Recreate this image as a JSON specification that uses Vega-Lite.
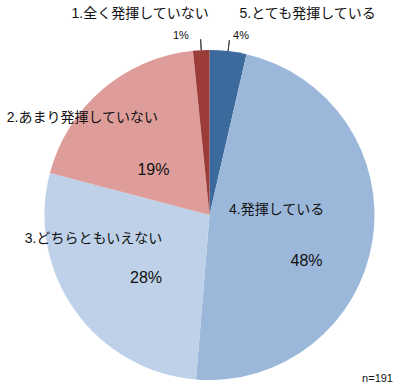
{
  "$schema": "https://vega.github.io/schema/vega-lite/v6.json",
  "width": 330,
  "height": 330,
  "autosize": {"type": "none"},
  "padding": {"left": 44.5, "top": 50, "right": 25.5, "bottom": 11},
  "background": "white",
  "view": {"stroke": null},
  "title": {
    "text": "n=191",
    "orient": "bottom",
    "anchor": "end",
    "frame": "group",
    "baseline": "top",
    "offset": -7,
    "dx": 18.5,
    "fontSize": 11,
    "fontWeight": "normal",
    "font": "Liberation Sans, Arial",
    "color": "#111"
  },
  "data": {
    "values": [
      {"label": "5.とても発揮している", "pct": "4%", "value": 3.6},
      {"label": "4.発揮している", "pct": "48%", "value": 47.7},
      {"label": "3.どちらともいえない", "pct": "28%", "value": 27.8},
      {"label": "2.あまり発揮していない", "pct": "19%", "value": 19.3},
      {"label": "1.全く発揮していない", "pct": "1%", "value": 1.6}
    ]
  },
  "encoding": {
    "theta": {"field": "value", "type": "quantitative", "stack": true},
    "order": {"field": "label", "sort": "descending"},
    "detail": {"field": "label"}
  },
  "layer": [
    {
      "mark": {"type": "arc", "outerRadius": 165},
      "encoding": {
        "color": {
          "field": "label",
          "type": "nominal",
          "scale": {
            "domain": ["5.とても発揮している", "4.発揮している", "3.どちらともいえない", "2.あまり発揮していない", "1.全く発揮していない"],
            "range": ["#3D6A9C", "#9BB8DB", "#BED1E8", "#DE9D9A", "#9B3C38"]
          },
          "legend": null
        }
      }
    },
    {
      "mark": {"type": "arc", "innerRadius": 165, "outerRadius": 176, "padAngle": 1.2, "fill": null, "strokeWidth": 1},
      "encoding": {
        "stroke": {"condition": {"test": "datum.pct === '4%' || datum.pct === '1%'", "value": "#444"}, "value": null}
      }
    },
    {
      "mark": {"type": "text", "radius": 205, "dx": 75, "dy": 3, "fontSize": 14, "font": "Liberation Sans, Noto Sans CJK JP"},
      "encoding": {"text": {"condition": {"test": "datum.pct === '4%'", "field": "label"}, "value": ""}, "color": {"value": "#111"}}
    },
    {
      "mark": {"type": "text", "radius": 205, "dx": -59, "dy": 4, "fontSize": 14, "font": "Liberation Sans, Noto Sans CJK JP"},
      "encoding": {"text": {"condition": {"test": "datum.pct === '1%'", "field": "label"}, "value": ""}, "color": {"value": "#111"}}
    },
    {
      "mark": {"type": "text", "radius": 165, "dx": -20, "dy": 28.5, "fontSize": 14, "font": "Liberation Sans, Noto Sans CJK JP"},
      "encoding": {"text": {"condition": {"test": "datum.pct === '19%'", "field": "label"}, "value": ""}, "color": {"value": "#111"}}
    },
    {
      "mark": {"type": "text", "radius": 140, "dx": -1.7, "dy": -57, "fontSize": 14, "font": "Liberation Sans, Noto Sans CJK JP"},
      "encoding": {"text": {"condition": {"test": "datum.pct === '28%'", "field": "label"}, "value": ""}, "color": {"value": "#111"}}
    },
    {
      "mark": {"type": "text", "radius": 68, "dx": 0, "dy": -15.4, "fontSize": 14, "font": "Liberation Sans, Noto Sans CJK JP"},
      "encoding": {"text": {"condition": {"test": "datum.pct === '48%'", "field": "label"}, "value": ""}, "color": {"value": "#111"}}
    },
    {
      "mark": {"type": "text", "radius": 100, "dx": -1.8, "dy": 30.7, "fontSize": 16, "font": "Liberation Sans, Arial"},
      "encoding": {"text": {"condition": {"test": "datum.pct === '48%'", "field": "pct"}, "value": ""}, "color": {"value": "#111"}}
    },
    {
      "mark": {"type": "text", "radius": 90, "dx": 10, "dy": 11, "fontSize": 16, "font": "Liberation Sans, Arial"},
      "encoding": {"text": {"condition": {"test": "datum.pct === '28%'", "field": "pct"}, "value": ""}, "color": {"value": "#111"}}
    },
    {
      "mark": {"type": "text", "radius": 75, "dx": -7.3, "dy": 12.5, "fontSize": 16, "font": "Liberation Sans, Arial"},
      "encoding": {"text": {"condition": {"test": "datum.pct === '19%'", "field": "pct"}, "value": ""}, "color": {"value": "#111"}}
    },
    {
      "mark": {"type": "text", "radius": 180, "dx": -19.5, "dy": 1, "fontSize": 11, "font": "Liberation Sans, Arial"},
      "encoding": {"text": {"condition": {"test": "datum.pct === '1%'", "field": "pct"}, "value": ""}, "color": {"value": "#111"}}
    },
    {
      "mark": {"type": "text", "radius": 180, "dx": 11.2, "dy": 0, "fontSize": 11, "font": "Liberation Sans, Arial"},
      "encoding": {"text": {"condition": {"test": "datum.pct === '4%'", "field": "pct"}, "value": ""}, "color": {"value": "#111"}}
    }
  ]
}
